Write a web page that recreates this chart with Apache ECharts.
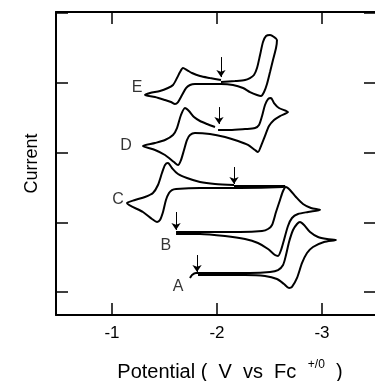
<!DOCTYPE html>
<html>
<head>
<meta charset="utf-8">
<script src="https://cdn.jsdelivr.net/npm/echarts@6.0.0/dist/echarts.min.js"></script>
<style>
html,body{margin:0;padding:0;background:#fff;}
#chart{width:375px;height:381px;}
</style>
</head>
<body>
<div id="chart"></div>
<script>
// Potential (V vs Fc+/0) and current (arbitrary units, offset per trace)
const xTicks = [-1, -2, -3];
const xTickLabels = ['-1', '-2', '-3'];
const yTicks = [0, 1, 2, 3, 4];

const traceE = [[-2.038,3.011],[-2.171,3.025],[-2.267,3.039],[-2.314,3.068],[-2.352,3.111],[-2.381,3.211],[-2.41,3.398],[-2.438,3.584],[-2.467,3.67],[-2.505,3.685],[-2.543,3.656],[-2.571,3.613],[-2.562,3.498],[-2.533,3.326],[-2.505,3.154],[-2.476,2.982],[-2.448,2.867],[-2.419,2.81],[-2.381,2.824],[-2.314,2.867],[-2.248,2.925],[-2.152,2.968],[-2.038,2.982],[-1.886,2.982],[-1.79,2.982],[-1.743,2.968],[-1.705,2.925],[-1.667,2.824],[-1.629,2.724],[-1.6,2.695],[-1.562,2.724],[-1.505,2.753],[-1.41,2.796],[-1.314,2.824],[-1.362,2.853],[-1.457,2.882],[-1.533,2.925],[-1.581,2.968],[-1.619,3.068],[-1.648,3.154],[-1.676,3.211],[-1.714,3.183],[-1.762,3.14],[-1.838,3.097],[-1.933,3.068],[-2.038,3.039]];

const traceD = [[-2.01,2.323],[-2.124,2.323],[-2.267,2.337],[-2.362,2.351],[-2.4,2.394],[-2.429,2.523],[-2.457,2.681],[-2.486,2.767],[-2.514,2.781],[-2.543,2.71],[-2.59,2.638],[-2.676,2.581],[-2.6,2.523],[-2.543,2.466],[-2.495,2.38],[-2.457,2.237],[-2.419,2.093],[-2.39,2.007],[-2.362,2.036],[-2.295,2.108],[-2.2,2.165],[-2.076,2.222],[-1.933,2.265],[-1.79,2.28],[-1.743,2.251],[-1.714,2.179],[-1.686,2.036],[-1.657,1.892],[-1.629,1.821],[-1.59,1.864],[-1.505,1.964],[-1.41,2.036],[-1.295,2.093],[-1.41,2.136],[-1.505,2.179],[-1.581,2.251],[-1.619,2.351],[-1.657,2.538],[-1.695,2.638],[-1.733,2.595],[-1.781,2.509],[-1.838,2.452],[-1.905,2.409],[-1.981,2.366]];

const traceC = [[-2.162,1.52],[-2.41,1.52],[-2.648,1.52],[-2.629,1.505],[-2.219,1.491],[-1.838,1.491],[-1.61,1.477],[-1.571,1.462],[-1.543,1.419],[-1.514,1.319],[-1.486,1.147],[-1.457,1.032],[-1.429,1.004],[-1.381,1.047],[-1.295,1.147],[-1.143,1.276],[-1.219,1.319],[-1.314,1.362],[-1.39,1.419],[-1.438,1.534],[-1.476,1.706],[-1.505,1.821],[-1.533,1.849],[-1.571,1.778],[-1.629,1.692],[-1.714,1.634],[-1.838,1.577],[-1.981,1.548],[-2.162,1.534]];

const traceB = [[-1.61,0.86],[-1.838,0.86],[-2.219,0.86],[-2.429,0.875],[-2.486,0.903],[-2.524,0.961],[-2.562,1.147],[-2.6,1.319],[-2.629,1.448],[-2.657,1.505],[-2.695,1.462],[-2.752,1.362],[-2.819,1.262],[-2.895,1.204],[-2.981,1.176],[-2.867,1.147],[-2.771,1.118],[-2.714,1.061],[-2.676,0.946],[-2.638,0.746],[-2.61,0.602],[-2.581,0.516],[-2.552,0.53],[-2.486,0.616],[-2.39,0.703],[-2.267,0.76],[-2.076,0.803],[-1.838,0.832],[-1.61,0.832]];

const traceA = [[-1.743,0.201],[-1.762,0.244],[-1.8,0.272],[-2.029,0.272],[-2.314,0.272],[-2.505,0.287],[-2.581,0.315],[-2.629,0.387],[-2.657,0.53],[-2.686,0.717],[-2.724,0.889],[-2.762,0.975],[-2.79,1.004],[-2.829,0.961],[-2.886,0.86],[-2.962,0.789],[-3.048,0.76],[-3.133,0.746],[-3.019,0.717],[-2.914,0.645],[-2.857,0.559],[-2.81,0.416],[-2.762,0.201],[-2.714,0.072],[-2.686,0.057],[-2.638,0.115],[-2.571,0.186],[-2.457,0.229],[-2.267,0.244],[-2.029,0.244],[-1.819,0.244]];

// start-potential arrows: [potential, top current, bottom current]
const arrows = [[-2.038,3.369,3.082],[-2.019,2.652,2.409],[-2.162,1.792,1.548],[-1.61,1.147,0.889],[-1.81,0.53,0.287]];
// trace labels anchored in data units
const traceNames = ['E','D','C','B','A'];
const labelAnchors = [[-1.238,2.925],[-1.133,2.093],[-1.057,1.319],[-1.514,0.66],[-1.629,0.072]];

const FONT = 'Liberation Sans, Arial, sans-serif';
const chart = echarts.init(document.getElementById('chart'), null, {renderer:'canvas'});

const lineSeries = [traceE, traceD, traceC, traceB, traceA].map((d, i) => ({
  type: 'line', name: traceNames[i], data: d, symbol: 'none', smooth: 0.25,
  lineStyle: {color: '#000', width: 2}, silent: true, animation: false
}));

const xCommon = {
  type: 'value', inverse: true, min: -3.514, max: -0.467,
  splitLine: {show: false},
  axisLine: {show: true, onZero: false, lineStyle: {color: '#000', width: 2}},
  axisTick: {show: true, inside: true, length: 12, customValues: xTicks, lineStyle: {color: '#000', width: 1.5}}
};
const yCommon = {
  type: 'value', min: -0.33, max: 4.015,
  splitLine: {show: false},
  axisLine: {show: true, onZero: false, lineStyle: {color: '#000', width: 2}},
  axisTick: {show: true, inside: true, length: 12, customValues: yTicks, lineStyle: {color: '#000', width: 1.5}},
  axisLabel: {show: false}
};

chart.setOption({
  animation: false,
  backgroundColor: '#fff',
  grid: {left: 56, top: 12, right: -1, bottom: 66, containLabel: false, outerBoundsMode: 'none'},
  xAxis: [
    Object.assign({}, xCommon, {
      position: 'bottom',
      axisLabel: {show: true, customValues: xTicks, formatter: v => xTickLabels[xTicks.indexOf(v)], color: '#000', fontSize: 17, fontFamily: FONT, margin: 10},
      name: '{a|Potential (  V  vs  Fc }{s|+/0}{a|  )}',
      nameLocation: 'middle', nameGap: 44,
      nameTextStyle: {color: '#000', fontFamily: FONT, padding: [0, 0, 0, 28], rich: {
        a: {fontSize: 20, color: '#000', fontFamily: FONT},
        s: {fontSize: 12, color: '#000', fontFamily: FONT, padding: [0, 0, 14, 6]}
      }}
    }),
    Object.assign({}, xCommon, {position: 'top', axisLabel: {show: false}})
  ],
  yAxis: [
    Object.assign({}, yCommon, {
      position: 'left', name: 'Current', nameLocation: 'middle', nameGap: 15, nameRotate: 90,
      nameTextStyle: {color: '#000', fontSize: 18, fontFamily: FONT}
    }),
    Object.assign({}, yCommon, {position: 'right'})
  ],
  series: lineSeries.concat([
    {
      type: 'lines', coordinateSystem: 'cartesian2d', silent: true,
      symbol: ['none', 'arrow'], symbolSize: [0, 7],
      lineStyle: {color: '#000', width: 1, opacity: 1},
      data: arrows.map(a => ({coords: [[a[0], a[1]], [a[0], a[2]]]}))
    },
    {
      type: 'scatter', symbolSize: 0, silent: true,
      data: labelAnchors.map((p, i) => ({value: p, name: traceNames[i]})),
      label: {show: true, position: 'inside', formatter: p => p.name, color: '#000', fontSize: 16, fontFamily: FONT}
    }
  ])
});
</script>
</body>
</html>
